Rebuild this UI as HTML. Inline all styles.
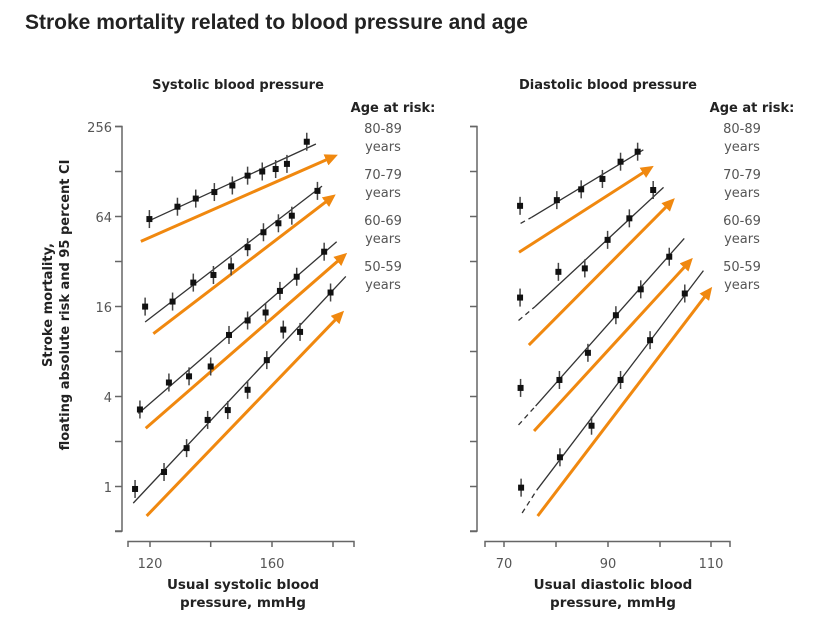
<!DOCTYPE html>
<html><head><meta charset="utf-8"><style>
body{margin:0;background:#fff;width:827px;height:624px;overflow:hidden}
svg{display:block}
.t{font-family:"DejaVu Sans",Verdana,sans-serif}
</style></head><body>
<svg id="c" width="827" height="624" xmlns="http://www.w3.org/2000/svg">
<defs><marker id="ah" markerWidth="13" markerHeight="12" refX="8" refY="6" orient="auto" markerUnits="userSpaceOnUse" viewBox="0 0 13 12"><path d="M0,0 L13,6 L0,12 z" fill="#f0880f"/></marker></defs>
<text x="25" y="29" font-family="Liberation Sans,Arial,sans-serif" font-weight="bold" font-size="21" fill="#222">Stroke mortality related to blood pressure and age</text>
<g id="g"></g>
</svg>
<script>
// ---- data ----
const yTicks=[1,4,16,64,256];
const ages=["80-89","70-79","60-69","50-59"];
// Systolic panel
const sysBP=[
 [119.8,129.0,135.0,141.1,147.0,152.0,156.8,161.2,164.9,171.4],
 [118.4,127.4,134.2,140.8,146.6,152.0,157.2,162.1,166.5,174.9],
 [116.7,126.2,132.8,139.9,145.9,152.0,157.9,162.6,168.1,177.1],
 [115.1,124.6,132.0,138.9,145.5,152.0,158.3,163.7,169.2,179.2]];
const sysRisk=[
 [62,75,85,94,104,121,129,134,145,204],
 [16.1,17.4,23.3,26.2,29.9,40.2,50.6,58.1,65.3,95.7],
 [3.3,5.0,5.5,6.4,10.4,13.0,14.7,20.5,25.5,37.5],
 [0.97,1.26,1.82,2.81,3.27,4.47,7.06,11.3,10.9,20.0]];
const sysFitBP=[[119.4,174.4],[118.4,176.4],[116.2,181.2],[114.5,184.2]];
const sysFitRisk=[[60,197],[12.7,103],[3.1,43.7],[0.78,25.6]];
const sysArrBP=[[117,180.1],[121.1,179.6],[118.6,183.4],[118.9,182.5]];
const sysArrRisk=[[44,162],[10.6,86.6],[2.47,35],[0.64,14.3]];
// Diastolic panel
const diaBP=[
 [73.1,80.2,84.9,89.0,92.5,95.8],
 [73.1,80.5,85.6,90.0,94.2,98.8],
 [73.2,80.7,86.2,91.6,96.4,101.9],
 [73.3,80.8,86.9,92.5,98.2,104.9]];
const diaRisk=[
 [76,83,98,115,150,175],
 [18.5,27.5,29,45,62.7,97],
 [4.6,5.2,7.9,14.1,21,34.7],
 [0.99,1.58,2.57,5.2,9.6,19.7]];
const diaFitBP=[[73.2,75.3,96.9],[72.8,76.0,100.8],[72.8,76.1,104.8],[73.5,76.3,108.5]];
const diaFitRisk=[[58,63.6,180],[13,16.1,101],[2.6,3.48,46],[0.67,0.95,28]];
const diaArrBP=[[72.9,98.1],[74.8,102.3],[75.8,105.8],[76.5,109.6]];
const diaArrRisk=[[37.2,135],[8.9,81],[2.37,32.2],[0.64,20.5]];

const NS="http://www.w3.org/2000/svg";
const G=document.getElementById('g');
function mk(tag,at,txt){const e=document.createElementNS(NS,tag);for(const k in at)e.setAttribute(k,at[k]);if(txt!=null)e.textContent=txt;G.appendChild(e);return e;}
const yS=v=>487-45*Math.log2(v);
const xSys=v=>150+(v-120)*3.05;
const xDia=v=>504+(v-70)*5.18;
const AX="#666";

function panel(xa, axisX, xLo, xHi, xTickVals, xLabVals, title, titleX, xt1, xt2, ageX, bp, risk, fbp, frisk, abp, arisk, dashed, pfx){
  let e=mk('path',{d:`M${axisX-7},126.5 H${axisX} V531 H${axisX-7}`,fill:'none',stroke:AX,'stroke-width':1.5});
  
  for(let k=0;k<=9;k++){const y=126.5+k*45;const t=mk('line',{x1:axisX-7,x2:axisX,y1:y,y2:y,stroke:AX,'stroke-width':1.5});
   }
  if(pfx==='systolic'){yTicks.forEach(v=>{const t=mk('text',{x:axisX-10,y:yS(v)+5,'text-anchor':'end','font-size':13,fill:'#555',class:'t'},String(v));
   });}
  e=mk('path',{d:`M${xLo},547 V541.5 H${xHi} V547`,fill:'none',stroke:AX,'stroke-width':1.5});
  
  xTickVals.forEach(v=>{const t=mk('line',{x1:v,x2:v,y1:541.5,y2:547,stroke:AX,'stroke-width':1.5});
   });
  xLabVals.forEach(p=>{const t=mk('text',{x:p[0],y:568,'text-anchor':'middle','font-size':13,fill:'#555',class:'t'},p[1]);
   });
  e=mk('text',{x:titleX,y:589,'text-anchor':'middle','font-size':13.5,'font-weight':'bold',fill:'#222',class:'t'},xt1);
  
  e=mk('text',{x:titleX,y:607,'text-anchor':'middle','font-size':13.5,'font-weight':'bold',fill:'#222',class:'t'},xt2);
  
  e=mk('text',{x:titleX-5,y:89,'text-anchor':'middle','font-size':13,'font-weight':'bold',fill:'#222',class:'t'},title);
  
  e=mk('text',{x:ageX+10,y:112,'text-anchor':'middle','font-size':13,'font-weight':'bold',fill:'#222',class:'t'},'Age at risk:');
  
  ages.forEach((a,i)=>{const y=133+i*46;
   let t=mk('text',{x:ageX,y:y,'text-anchor':'middle','font-size':13,fill:'#555',class:'t'},a);
   
   t=mk('text',{x:ageX,y:y+18,'text-anchor':'middle','font-size':13,fill:'#555',class:'t'},'years');
   });
  const xs=pfx==='systolic'?xSys:xDia;
  bp.forEach((row,s)=>{
    const fb=fbp[s],fr=frisk[s];
    if(dashed){
      let d=mk('line',{x1:xs(fb[0]),y1:yS(fr[0]),x2:xs(fb[1]),y2:yS(fr[1]),stroke:'#333','stroke-width':1.3,'stroke-dasharray':'5,4'});
      
      d=mk('line',{x1:xs(fb[1]),y1:yS(fr[1]),x2:xs(fb[2]),y2:yS(fr[2]),stroke:'#333','stroke-width':1.3});
      
    } else {
      const d=mk('line',{x1:xs(fb[0]),y1:yS(fr[0]),x2:xs(fb[1]),y2:yS(fr[1]),stroke:'#333','stroke-width':1.3});
      
    }
    const ar=mk('line',{x1:xs(abp[s][0]),y1:yS(arisk[s][0]),x2:xs(abp[s][1]),y2:yS(arisk[s][1]),stroke:'#f0880f','stroke-width':3,'marker-end':'url(#ah)'});
    
    row.forEach((v,j)=>{const x=xs(v),y=yS(risk[s][j]);
      const eb=mk('line',{x1:x,x2:x,y1:y-9,y2:y+9,stroke:'#444','stroke-width':1.5});
      
      const p=mk('rect',{x:x-3,y:y-3,width:6,height:6,fill:'#111'});
      
    });
  });
}
panel(xSys,122,128,354,[150,210.7,272,333],[[150,'120'],[272,'160']],'Systolic blood pressure',243,'Usual systolic blood','pressure, mmHg',383,
  sysBP,sysRisk,sysFitBP,sysFitRisk,sysArrBP,sysArrRisk,false,'systolic');
panel(xDia,477,485,730,[504,556,608,660,711],[[504,'70'],[608,'90'],[711,'110']],'Diastolic blood pressure',613,'Usual diastolic blood','pressure, mmHg',742,
  diaBP,diaRisk,diaFitBP,diaFitRisk,diaArrBP,diaArrRisk,true,'diastolic');
let yt=mk('text',{x:0,y:0,transform:'translate(52,305) rotate(-90)','text-anchor':'middle','font-size':13,'font-weight':'bold',fill:'#222',class:'t'},'Stroke mortality,');

yt=mk('text',{x:0,y:0,transform:'translate(69,305) rotate(-90)','text-anchor':'middle','font-size':13,'font-weight':'bold',fill:'#222',class:'t'},'floating absolute risk and 95 percent CI');

</script>
</body></html>
